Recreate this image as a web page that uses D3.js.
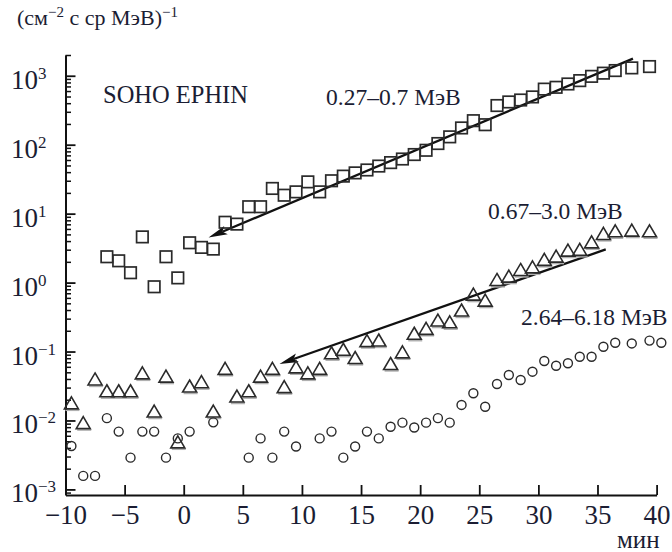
<!DOCTYPE html>
<html>
<head>
<meta charset="utf-8">
<script src="https://cdn.jsdelivr.net/npm/d3@7"></script>
<style>
  html, body { margin: 0; padding: 0; background: #fff; }
  svg { display: block; }
  text { font-family: "Liberation Serif", "Times New Roman", serif; fill: #1b1d33; }
</style>
</head>
<body>
<svg id="chart" width="672" height="552"></svg>
<script>
// SOHO EPHIN electron intensities, (cm^-2 s sr MeV)^-1, vs time in minutes

// 0.27–0.7 MeV channel (squares)
const sqTime = [-6.5,-5.5,-4.5,-3.5,-2.5,-1.5,-0.5,0.5,1.5,2.5,3.5,4.5,5.5,6.5,7.5,8.5,9.5,10.5,11.5,12.5,13.5,14.5,15.5,16.5,17.5,18.5,19.5,20.5,21.5,22.5,23.5,24.5,25.5,26.5,27.5,28.5,29.5,30.5,31.5,32.5,33.5,34.5,35.5,36.5,37.9,39.4];
const sqFlux = [2.37,2.07,1.39,4.6,0.87,2.37,1.17,3.78,3.24,3.06,7.5,7.05,12.6,12.6,23.2,18.5,20.7,28.9,20.7,30,35,39,43,49,55,62,72,83,104,130,175,223,195,370,417,445,493,640,680,760,850,980,1090,1190,1300,1360];

// 0.67–3.0 MeV channel (triangles)
const triTime = [-9.5,-8.5,-7.5,-6.5,-5.5,-4.5,-3.5,-2.5,-1.5,-0.5,0.5,1.5,2.5,3.5,4.5,5.5,6.5,7.5,8.5,9.5,10.5,11.5,12.5,13.5,14.5,15.5,16.5,17.5,18.5,19.5,20.5,21.5,22.5,23.5,24.5,25.5,26.5,27.5,28.5,29.5,30.5,31.5,32.5,33.5,34.5,35.5,36.5,37.9,39.4];
const triFlux = [0.018,0.0093,0.040,0.027,0.027,0.027,0.049,0.0137,0.044,0.0049,0.0316,0.0365,0.0137,0.057,0.0226,0.027,0.044,0.057,0.031,0.060,0.049,0.057,0.096,0.108,0.082,0.144,0.147,0.067,0.099,0.184,0.217,0.286,0.27,0.40,0.68,0.557,1.11,1.24,1.55,1.69,2.17,2.42,2.96,3.03,3.9,5.16,5.64,5.77,5.64];

// 2.64–6.18 MeV channel (circles)
const circTime = [-9.5,-8.5,-7.5,-6.5,-5.5,-4.5,-3.5,-2.5,-1.5,-0.5,0.5,2.5,5.5,6.5,7.5,8.5,9.5,11.5,12.5,13.5,14.5,15.5,16.5,17.5,18.5,19.5,20.5,21.5,22.5,23.5,24.5,25.5,26.5,27.5,28.5,29.5,30.5,31.5,32.5,33.5,34.5,35.5,36.5,37.9,39.4,40.4];
const circFlux = [0.00427,0.00157,0.00157,0.0108,0.0069,0.00289,0.0069,0.0069,0.00289,0.0055,0.0069,0.0094,0.00289,0.0055,0.00289,0.0069,0.0042,0.0055,0.0069,0.00289,0.0042,0.0069,0.0055,0.0081,0.0093,0.0079,0.0093,0.0108,0.0093,0.0168,0.0248,0.0158,0.0338,0.0456,0.0386,0.051,0.0728,0.0622,0.0675,0.084,0.084,0.1175,0.134,0.131,0.144,0.134];

// Back-extrapolation arrows (from tail to head)
const arrowHighTime = [38.0, 2.1];
const arrowHighFlux = [1775, 4.5];
const arrowMidTime = [35.7, 8.1];
const arrowMidFlux = [3.03, 0.066];

// Axis ticks and labels
const xTicks = [-10,-5,0,5,10,15,20,25,30,35,40];
const yMajor = [1e-3,1e-2,1e-1,1e0,1e1,1e2,1e3];
const yExponent = ["−3","−2","−1","0","1","2","3"];

const channelLabels = ["0.27–0.7 МэВ", "0.67–3.0 МэВ", "2.64–6.18 МэВ"];

const svg = d3.select("#chart");
const x = d3.scaleLinear().domain([-10, 40]).range([65.5, 656.6]);
const y = d3.scaleLog().domain([8.3e-4, 2000]).range([495, 55]);

const ink = "#111";
const markInk = "#2a2a2a";
const serif = "'Liberation Serif', 'Times New Roman', serif";

// ---- axes ----
const xAxis = d3.axisBottom(x)
  .tickValues(xTicks)
  .tickSizeInner(-10).tickSizeOuter(0).tickPadding(10)
  .tickFormat(d => d < 0 ? "−" + Math.abs(d) : String(d));
const gx = svg.append("g").attr("transform", "translate(0,495)").call(xAxis);
gx.attr("font-family", null);
gx.select(".domain").attr("stroke", ink).attr("stroke-width", 2);
gx.selectAll(".tick line").attr("stroke", ink).attr("stroke-width", 1.8);
gx.selectAll(".tick text").attr("fill", "#1b1d33")
  .style("font-family", serif).style("font-size", "27px");

const minorVals = y.ticks().filter(v => Math.abs(Math.log10(v) - Math.round(Math.log10(v))) > 1e-6);
const gyMinor = svg.append("g").attr("transform", "translate(65.5,0)")
  .call(d3.axisLeft(y).tickValues(minorVals).tickSizeInner(-5.5).tickSizeOuter(0).tickFormat(""));
gyMinor.selectAll(".tick line").attr("stroke", ink).attr("stroke-width", 1.5);
gyMinor.select(".domain").remove();

const gy = svg.append("g").attr("transform", "translate(65.5,0)")
  .call(d3.axisLeft(y).tickValues(yMajor).tickSizeInner(-10).tickSizeOuter(0).tickFormat(""));
gy.select(".domain").attr("stroke", ink).attr("stroke-width", 2);
gy.selectAll(".tick line").attr("stroke", ink).attr("stroke-width", 1.8);

// power-of-ten labels, left aligned
yMajor.forEach((v, i) => {
  const t = svg.append("text").attr("x", 11).attr("y", y(v) + 13)
    .style("font-family", serif).style("font-size", "27px");
  t.append("tspan").text("10");
  t.append("tspan").attr("dy", -10).style("font-size", "17px").text(yExponent[i]);
});

// axis units
const title = svg.append("text").attr("x", 17).attr("y", 25)
  .style("font-family", serif).style("font-size", "22px");
title.append("tspan").text("(см");
title.append("tspan").attr("dy", -8).style("font-size", "15px").text("−2");
title.append("tspan").attr("dy", 8).text(" с ср МэВ)");
title.append("tspan").attr("dy", -8).style("font-size", "15px").text("−1");

svg.append("text").attr("x", 617).attr("y", 548)
  .style("font-family", serif).style("font-size", "25px").text("мин");

// ---- arrows ----
function arrow(times, fluxes) {
  const x0 = x(times[0]), y0 = y(fluxes[0]);
  const x1 = x(times[1]), y1 = y(fluxes[1]);
  const ang = Math.atan2(y1 - y0, x1 - x0);
  const len = 19, half = 4.5;
  const bx = x1 - len * Math.cos(ang), by = y1 - len * Math.sin(ang);
  const nx = -Math.sin(ang), ny = Math.cos(ang);
  svg.append("line")
    .attr("x1", x0).attr("y1", y0).attr("x2", bx + 4 * Math.cos(ang)).attr("y2", by + 4 * Math.sin(ang))
    .attr("stroke", ink).attr("stroke-width", 2.3);
  const nb = 4;
  const pts = [
    [x1, y1],
    [bx + half * nx, by + half * ny],
    [bx + nb * Math.cos(ang), by + nb * Math.sin(ang)],
    [bx - half * nx, by - half * ny]
  ];
  svg.append("polygon").attr("points", pts.map(p => p.join(",")).join(" ")).attr("fill", ink);
}
arrow(arrowHighTime, arrowHighFlux);
arrow(arrowMidTime, arrowMidFlux);

// ---- markers ----
const sqData = sqTime.map((t, i) => ({ t, v: sqFlux[i] }));
const triData = triTime.map((t, i) => ({ t, v: triFlux[i] }));
const circData = circTime.map((t, i) => ({ t, v: circFlux[i] }));

const S = 11.5;
svg.append("g").selectAll("rect").data(sqData).join("rect")
  .attr("x", d => x(d.t) - S / 2).attr("y", d => y(d.v) - S / 2)
  .attr("width", S).attr("height", S)
  .attr("fill", "none").attr("stroke", markInk).attr("stroke-width", 1.7);

const TW = 14, TH = 12;
const gTri = svg.append("g");
gTri.selectAll("line").data(triData).join("line")
  .attr("x1", d => x(d.t) - TW / 2 + 1).attr("x2", d => x(d.t) + TW / 2 + 1)
  .attr("y1", d => y(d.v) + TH / 2 + 1.4).attr("y2", d => y(d.v) + TH / 2 + 1.4)
  .attr("stroke", "#b0b0b0").attr("stroke-width", 1.6);
gTri.selectAll("path").data(triData).join("path")
  .attr("d", d => {
    const cx = x(d.t), cy = y(d.v);
    return `M${cx},${cy - TH / 2}L${cx + TW / 2},${cy + TH / 2}L${cx - TW / 2},${cy + TH / 2}Z`;
  })
  .attr("fill", "none").attr("stroke", markInk).attr("stroke-width", 1.6).attr("stroke-linejoin", "miter");

svg.append("g").selectAll("circle").data(circData).join("circle")
  .attr("cx", d => x(d.t)).attr("cy", d => y(d.v)).attr("r", 4.5)
  .attr("fill", "none").attr("stroke", markInk).attr("stroke-width", 1.4);

// ---- annotations ----
const note = (tx, ty, size, str) => svg.append("text").attr("x", tx).attr("y", ty)
  .style("font-family", serif).style("font-size", size).text(str);
note(103, 102.5, "24.5px", "SOHO EPHIN");
note(326, 105, "23.5px", channelLabels[0]);
note(488, 218.5, "23.5px", channelLabels[1]);
note(521, 325, "23.5px", channelLabels[2]);
</script>
</body>
</html>
